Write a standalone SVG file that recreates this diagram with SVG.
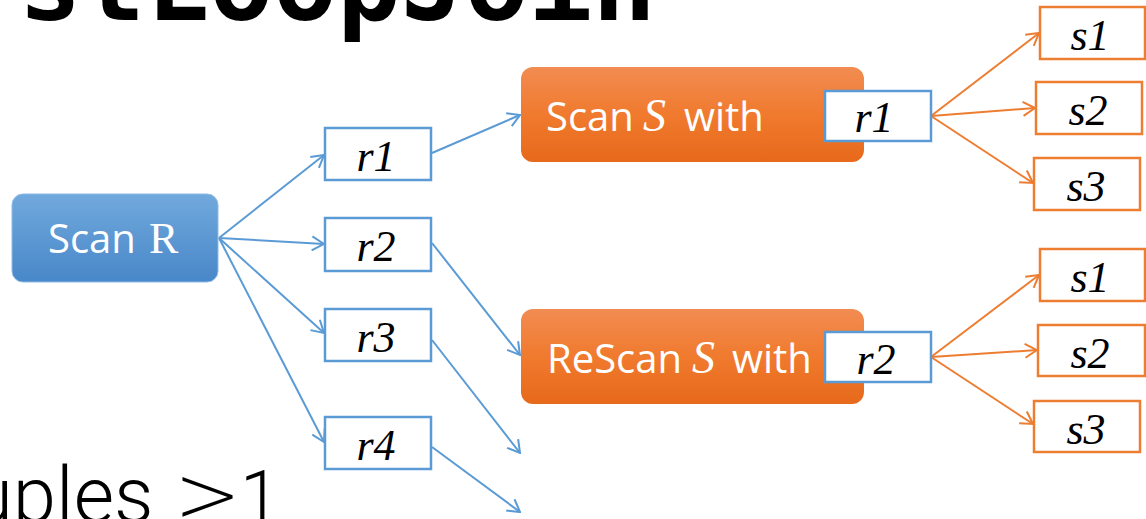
<svg xmlns="http://www.w3.org/2000/svg" width="1146" height="519" viewBox="0 0 1146 519">
<defs>
<linearGradient id="gBlue" x1="0" y1="0" x2="0" y2="1"><stop offset="0" stop-color="#71a9dd"/><stop offset="1" stop-color="#4887c8"/></linearGradient>
<linearGradient id="gOrange" x1="0" y1="0" x2="0" y2="1"><stop offset="0" stop-color="#f28c52"/><stop offset="0.5" stop-color="#f07a2e"/><stop offset="1" stop-color="#e7691b"/></linearGradient>
<marker id="aBlue" viewBox="0 0 14 16" markerWidth="14" markerHeight="16" refX="13" refY="8" markerUnits="userSpaceOnUse" orient="auto"><path d="M1,1 L13,8 L1,15" fill="none" stroke="#5b9bd5" stroke-width="2"/></marker>
<marker id="aOrange" viewBox="0 0 14 16" markerWidth="14" markerHeight="16" refX="13" refY="8" markerUnits="userSpaceOnUse" orient="auto"><path d="M1,1 L13,8 L1,15" fill="none" stroke="#ed7d31" stroke-width="2"/></marker>
</defs>
<style>
.title{font-family:"DejaVu Sans Mono",monospace;font-weight:bold;font-size:106px;fill:#000}
.foot{font-family:Roboto,"Open Sans",sans-serif;font-weight:300;font-size:78px;fill:#000}
.gt{font-family:"DejaVu Sans",sans-serif;font-weight:200;font-size:80px}
.lbl{font-family:"Open Sans",sans-serif;font-size:40px;fill:#fff}
.it{font-family:"Liberation Serif",serif;font-style:italic}
.up{font-family:"Liberation Serif",serif}
.var{font-family:"Liberation Serif",serif;font-style:italic;font-size:44px;fill:#000;text-anchor:middle}
.rbox{fill:#fff;stroke:#5b9bd5;stroke-width:2.5}
.sbox{fill:#fff;stroke:#ed7d31;stroke-width:2.5}
.cb{fill:none;stroke:#5b9bd5;stroke-width:2;marker-end:url(#aBlue)}
.co{fill:none;stroke:#ed7d31;stroke-width:2;marker-end:url(#aOrange)}
</style>
<rect width="1146" height="519" fill="#fff"/>
<text class="title" x="18" y="20">stLoopJoin</text>
<text class="foot" x="-30" y="522">uples <tspan class="gt" x="174">&gt;</tspan><tspan x="240" font-size="72">1</tspan></text>

<g id="connectors">
<line class="cb" x1="219" y1="238" x2="324" y2="155"/>
<line class="cb" x1="219" y1="238" x2="324" y2="244"/>
<line class="cb" x1="219" y1="238" x2="324" y2="333"/>
<line class="cb" x1="219" y1="238" x2="324" y2="442"/>
<line class="cb" x1="432" y1="153" x2="520" y2="115"/>
<line class="cb" x1="432" y1="243" x2="520" y2="355"/>
<line class="cb" x1="432" y1="340" x2="520" y2="453"/>
<line class="cb" x1="432" y1="447" x2="520" y2="512"/>
<line class="co" x1="931" y1="116" x2="1039" y2="33"/>
<line class="co" x1="931" y1="116" x2="1035" y2="108"/>
<line class="co" x1="931" y1="116" x2="1033" y2="183"/>
<line class="co" x1="931" y1="357" x2="1039" y2="275"/>
<line class="co" x1="931" y1="357" x2="1037" y2="350"/>
<line class="co" x1="931" y1="357" x2="1033" y2="424"/>
</g>

<g id="scanR">
<rect x="12" y="194" width="206" height="88" rx="11" fill="url(#gBlue)" stroke="#8fbbe6" stroke-width="1"/>
<text class="lbl" x="48" y="253">Scan <tspan class="up" font-size="44" x="149">R</tspan></text>
</g>

<g id="r1"><rect class="rbox" x="325" y="128" width="106" height="52"/><text class="var" x="376" y="171">r1</text></g>
<g id="r2"><rect class="rbox" x="325" y="218" width="106" height="53"/><text class="var" x="376" y="261">r2</text></g>
<g id="r3"><rect class="rbox" x="325" y="309" width="106" height="52"/><text class="var" x="376" y="352">r3</text></g>
<g id="r4"><rect class="rbox" x="325" y="417" width="106" height="52"/><text class="var" x="376" y="460">r4</text></g>

<g id="scanS">
<rect x="521" y="67" width="343" height="95" rx="12" fill="url(#gOrange)"/>
<text class="lbl" x="546" y="131">Scan <tspan class="it" font-size="46" x="643">S</tspan><tspan x="684">with</tspan></text>
<rect class="rbox" x="825" y="91" width="106" height="50"/>
<text class="var" x="874" y="132">r1</text>
</g>

<g id="rescanS">
<rect x="521" y="309" width="343" height="95" rx="12" fill="url(#gOrange)"/>
<text class="lbl" x="547" y="373">ReScan <tspan class="it" font-size="46" x="692">S</tspan><tspan x="732">with</tspan></text>
<rect class="rbox" x="825" y="332" width="106" height="50"/>
<text class="var" x="876" y="374">r2</text>
</g>

<g id="s1a"><rect class="sbox" x="1040" y="7" width="105" height="52"/><text class="var" x="1090" y="50">s1</text></g>
<g id="s2a"><rect class="sbox" x="1036" y="82" width="106" height="52"/><text class="var" x="1088" y="125">s2</text></g>
<g id="s3a"><rect class="sbox" x="1034" y="158" width="106" height="52"/><text class="var" x="1086" y="201">s3</text></g>
<g id="s1b"><rect class="sbox" x="1040" y="249" width="105" height="52"/><text class="var" x="1090" y="292">s1</text></g>
<g id="s2b"><rect class="sbox" x="1038" y="325" width="107" height="51"/><text class="var" x="1090" y="368">s2</text></g>
<g id="s3b"><rect class="sbox" x="1034" y="401" width="106" height="51"/><text class="var" x="1086" y="444">s3</text></g>
</svg>
